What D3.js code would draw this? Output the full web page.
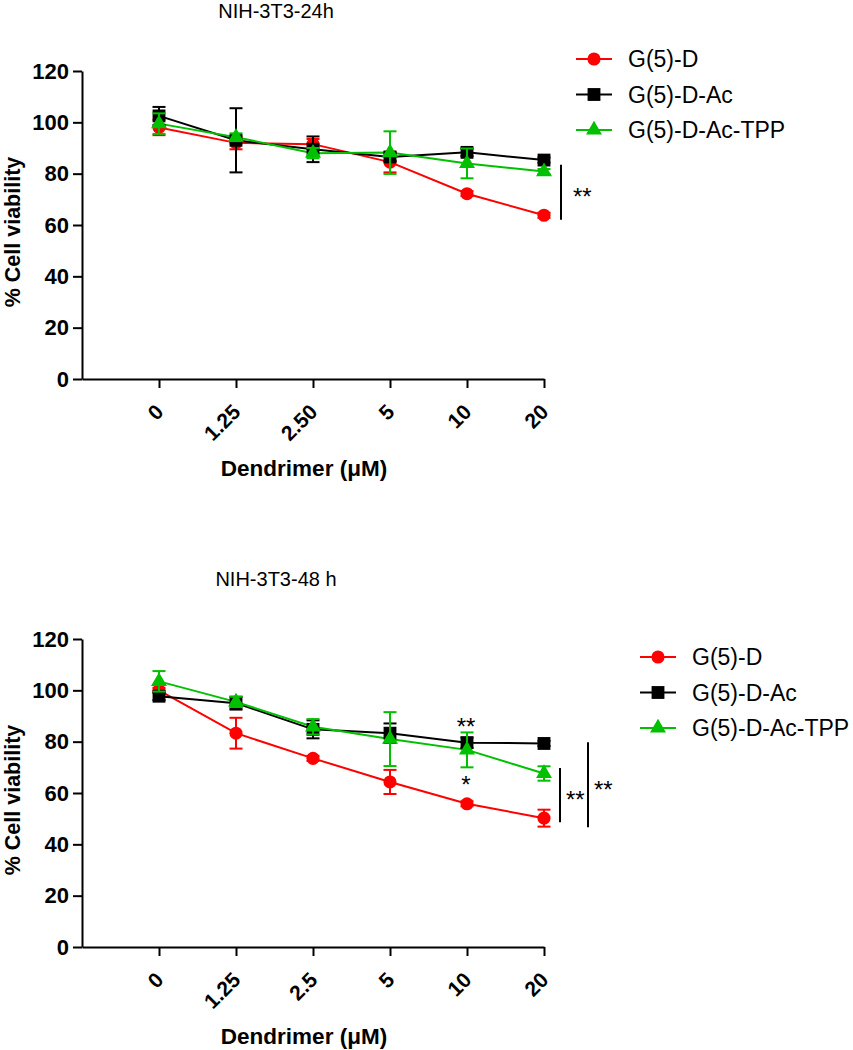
<!DOCTYPE html>
<html>
<head>
<meta charset="utf-8">
<script src="https://cdn.jsdelivr.net/npm/d3@7"></script>
<style>
  body { margin: 0; background: #fff; }
  svg { font-family: "Liberation Sans", Arial, sans-serif; }
</style>
</head>
<body>
<div id="canvas"></div>
<script>
// values (mean, error)
const seriesNames = ["G(5)-D", "G(5)-D-Ac", "G(5)-D-Ac-TPP"];
const seriesColors = ["#ff0000", "#000000", "#00c000"];
const seriesShapes = [d3.symbolCircle, d3.symbolSquare, d3.symbolTriangle];
const symbolSizes = [135, 165, 110];

const doses24 = ["0", "1.25", "2.50", "5", "10", "20"];
const gD_24 = [98, 92, 91.5, 84.5, 72.2, 63.8];
const gD_24err = [3, 2.5, 2, 4, 1, 1];
const gDAc_24 = [102.5, 93, 89.5, 86.5, 88.3, 85.3];
const gDAc_24err = [3.5, 12.5, 5, 1.5, 1.5, 1];
const gDAcTPP_24 = [99.5, 94.2, 88, 88.2, 84, 80.8];
const gDAcTPP_24err = [4, 1.5, 2, 8.3, 5.8, 1];

const doses48 = ["0", "1.25", "2.5", "5", "10", "20"];
const gD_48 = [100, 83.3, 73.5, 64.3, 55.8, 50.2];
const gD_48err = [1, 6, 1, 4.7, 1, 3.3];
const gDAc_48 = [97.7, 95, 84.8, 83.3, 79.6, 79.3];
const gDAc_48err = [1.5, 2.5, 3.5, 3.8, 2, 1];
const gDAcTPP_48 = [103.5, 95.5, 85.8, 81, 76.8, 67.6];
const gDAcTPP_48err = [4, 2, 3, 10.5, 6.8, 2.8];

const yTicks = [0, 20, 40, 60, 80, 100, 120];

// significance marks: [dose index, value, label]
const stars24 = [];
const stars48 = [[4, 87.5, "**"], [4, 65, "*"]];
// brackets at the right end: [top value, bottom value, label]
const brackets24 = [[83.5, 62, "**"]];
const brackets48 = [[69.7, 48.6, "**"], [79.8, 46.7, "**"]];

const width = 853;
const height = 1050;

const svg = d3.select("#canvas").append("svg")
  .attr("width", width)
  .attr("height", height);

function drawPanel(opt) {
  const g = svg.append("g");
  const x = d3.scaleLinear().domain([-1, 5]).range([82, 544]);
  const y = d3.scaleLinear().domain([0, 120]).range([opt.bottom, opt.bottom - 308]);

  // title
  g.append("text")
    .attr("x", 276)
    .attr("y", y(120) - 53)
    .attr("text-anchor", "middle")
    .style("font-size", "20px")
    .text(opt.title);

  // y axis
  const yAxis = g.append("g")
    .attr("transform", "translate(82,0)")
    .call(d3.axisLeft(y).tickValues(yTicks).tickSize(9).tickSizeOuter(0).tickPadding(4));
  yAxis.selectAll("path, line").attr("stroke", "#000").attr("stroke-width", 2);
  yAxis.selectAll("text")
    .attr("fill", "#000")
    .style("font-size", "22px")
    .style("font-weight", "bold")
    .style("font-family", "Liberation Sans, Arial, sans-serif");

  // x axis
  const xAxis = g.append("g")
    .attr("transform", `translate(0,${opt.bottom})`)
    .call(d3.axisBottom(x).tickValues(d3.range(6)).tickFormat((i) => opt.doses[i])
      .tickSize(9).tickSizeOuter(0));
  xAxis.selectAll("path, line").attr("stroke", "#000").attr("stroke-width", 2);
  xAxis.selectAll("text")
    .attr("fill", "#000")
    .attr("x", 0)
    .attr("y", 0)
    .attr("dy", "0.35em")
    .attr("text-anchor", "end")
    .attr("transform", "translate(0,29) rotate(-45)")
    .style("font-size", "21px")
    .style("font-weight", "bold")
    .style("font-family", "Liberation Sans, Arial, sans-serif");

  // axis titles
  g.append("text")
    .attr("transform", `translate(13,${(y(0) + y(120)) / 2 + 7}) rotate(-90)`)
    .attr("text-anchor", "middle")
    .attr("dominant-baseline", "central")
    .style("font-size", "21.5px")
    .style("font-weight", "bold")
    .text("% Cell viability");

  g.append("text")
    .attr("x", 304)
    .attr("y", opt.bottom + 97)
    .attr("text-anchor", "middle")
    .style("font-size", "22.5px")
    .style("font-weight", "bold")
    .text("Dendrimer (\u03BCM)");

  const line = d3.line().x((d, i) => x(i)).y((d) => y(d));

  opt.series.forEach((s, k) => {
    g.append("path")
      .datum(s.mean)
      .attr("d", line)
      .attr("fill", "none")
      .attr("stroke", seriesColors[k])
      .attr("stroke-width", 2);
  });

  opt.series.forEach((s, k) => {
    const bars = g.append("g")
      .attr("stroke", seriesColors[k])
      .attr("stroke-width", 2);
    s.mean.forEach((m, i) => {
      const e = s.err[i];
      bars.append("line")
        .attr("x1", x(i)).attr("x2", x(i))
        .attr("y1", y(m - e)).attr("y2", y(m + e));
      [m - e, m + e].forEach((v) => {
        bars.append("line")
          .attr("x1", x(i) - 6.5).attr("x2", x(i) + 6.5)
          .attr("y1", y(v)).attr("y2", y(v));
      });
    });
    g.selectAll(null)
      .data(s.mean)
      .enter()
      .append("path")
      .attr("transform", (d, i) => `translate(${x(i)},${y(d)})`)
      .attr("d", d3.symbol().type(seriesShapes[k]).size(symbolSizes[k]))
      .attr("fill", seriesColors[k]);
  });

  // stars above / below points
  opt.stars.forEach(([i, v, label]) => {
    g.append("text")
      .attr("x", x(i) - 1)
      .attr("y", y(v) + 13)
      .attr("text-anchor", "middle")
      .style("font-size", "24px")
      .text(label);
  });

  // brackets
  opt.brackets.forEach(([top, bot, label], j) => {
    const bx = x(5) + opt.bracketX[j];
    g.append("line")
      .attr("x1", bx).attr("x2", bx)
      .attr("y1", y(top)).attr("y2", y(bot))
      .attr("stroke", "#000")
      .attr("stroke-width", 2);
    g.append("text")
      .attr("x", bx + opt.bracketLabelDx)
      .attr("y", (y(top) + y(bot)) / 2 + 13)
      .style("font-size", "24px")
      .text(label);
  });

  // legend
  const leg = g.append("g")
    .attr("transform", `translate(${opt.legendX},${opt.legendY})`);
  seriesNames.forEach((name, k) => {
    const row = leg.append("g").attr("transform", `translate(0,${k * 35.5})`);
    row.append("line")
      .attr("x1", 0).attr("x2", 36)
      .attr("stroke", seriesColors[k])
      .attr("stroke-width", 2);
    row.append("path")
      .attr("transform", "translate(18,0)")
      .attr("d", d3.symbol().type(seriesShapes[k]).size(symbolSizes[k]))
      .attr("fill", seriesColors[k]);
    row.append("text")
      .attr("x", 52)
      .attr("dy", "0.35em")
      .style("font-size", "23px")
      .text(name);
  });
}

drawPanel({
  title: "NIH-3T3-24h",
  bottom: 379,
  doses: doses24,
  series: [
    { mean: gD_24, err: gD_24err },
    { mean: gDAc_24, err: gDAc_24err },
    { mean: gDAcTPP_24, err: gDAcTPP_24err }
  ],
  stars: stars24,
  brackets: brackets24,
  bracketX: [17],
  bracketLabelDx: 12,
  legendX: 576,
  legendY: 59
});

drawPanel({
  title: "NIH-3T3-48 h",
  bottom: 947,
  doses: doses48,
  series: [
    { mean: gD_48, err: gD_48err },
    { mean: gDAc_48, err: gDAc_48err },
    { mean: gDAcTPP_48, err: gDAcTPP_48err }
  ],
  stars: stars48,
  brackets: brackets48,
  bracketX: [16, 44],
  bracketLabelDx: 6,
  legendX: 640,
  legendY: 657
});
</script>
</body>
</html>
